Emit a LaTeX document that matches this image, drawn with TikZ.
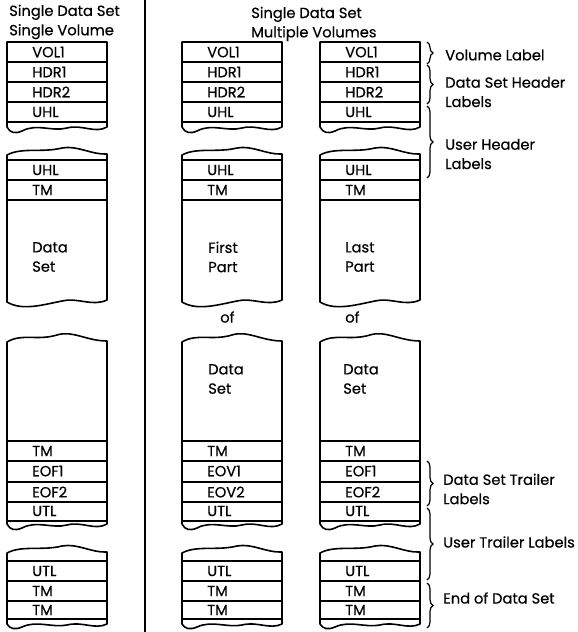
\documentclass[tikz,border=0pt]{standalone}
\usepackage{fontspec}
\setmainfont{Poppins}[FakeBold=0.5]
\usetikzlibrary{decorations.pathreplacing}

\tikzset{
  box/.style={line width=1.2pt, line join=round},
  row/.style={line width=0.8pt},
  lbl/.style={anchor=west, inner sep=0pt, align=left, font=\fontsize{11}{14.5}\selectfont},
  brc/.style={decorate, decoration={brace, amplitude=4.5pt}, line width=0.9pt},
}

\begin{document}
\begin{tikzpicture}[x=0.75pt, y=-0.75pt]
    \useasboundingbox (0,0) rectangle (578,632);
    \draw [line width=1.1pt] (145,0) -- (145,632); % divider

    \node [lbl] (headA) at (9,22) {Single Data Set\\Single Volume};
    \node [lbl] (headB) at (251,24) {Single Data Set\\Multiple Volumes};

    \foreach \x/\c/\e in {7/a/EOF,182/b/EOV,320/c/EOF} {
        % header labels
        \draw [box] (\x,127) -- (\x,42) -- (\x+100,42) -- (\x+100,127)
            .. controls (\x+88,134) and (\x+75,124) .. (\x+60,128)
            .. controls (\x+45,132) and (\x+30,123) .. (\x+15,131)
            .. controls (\x+8,134) and (\x+3,133) .. cycle;
        \foreach \y in {62,82,102,122} \draw [row] (\x,\y) -- (\x+100,\y);
        \node [lbl] (\c-vol) at (\x+25,52) {VOL1};
        \node [lbl] (\c-hdr1) at (\x+25,72) {HDR1};
        \node [lbl] (\c-hdr2) at (\x+25,92) {HDR2};
        \node [lbl] (\c-uhl1) at (\x+25,112) {UHL};
        % first part of the data set
        \draw [box] (\x,155) .. controls (\x+15,147) and (\x+35,153) .. (\x+55,148)
            .. controls (\x+70,145) and (\x+85,155) .. (\x+100,154) -- (\x+100,300)
            .. controls (\x+85,307) and (\x+70,297) .. (\x+55,301)
            .. controls (\x+35,305) and (\x+15,311) .. (\x,302) -- cycle;
        \foreach \y in {160,180,200} \draw [row] (\x,\y) -- (\x+100,\y);
        \node [lbl] (\c-uhl2) at (\x+25,170) {UHL};
        \node [lbl] (\c-tm1) at (\x+25,190) {TM};
        % trailer labels
        \draw [box] (\x,342) .. controls (\x+15,333) and (\x+30,341) .. (\x+50,335)
            .. controls (\x+65,330) and (\x+80,341) .. (\x+100,341) -- (\x+100,524)
            .. controls (\x+88,531) and (\x+75,521) .. (\x+60,525)
            .. controls (\x+45,529) and (\x+30,520) .. (\x+15,528)
            .. controls (\x+8,531) and (\x+3,530) .. (\x,524) -- cycle;
        \foreach \y in {441,461,482,502,521} \draw [row] (\x,\y) -- (\x+100,\y);
        \node [lbl] (\c-tm2) at (\x+25,451) {TM};
        \node [lbl] (\c-eo1) at (\x+25,471) {\e1};
        \node [lbl] (\c-eo2) at (\x+25,492) {\e2};
        \node [lbl] (\c-utl1) at (\x+25,511) {UTL};
        % end of data set
        \draw [box] (\x,553) .. controls (\x+15,545) and (\x+35,551) .. (\x+55,546)
            .. controls (\x+70,543) and (\x+85,553) .. (\x+100,552) -- (\x+100,624)
            .. controls (\x+88,630) and (\x+75,621) .. (\x+60,625)
            .. controls (\x+45,628) and (\x+30,620) .. (\x+15,627)
            .. controls (\x+8,630) and (\x+3,629) .. (\x,624) -- cycle;
        \foreach \y in {561,581,601,619} \draw [row] (\x,\y) -- (\x+100,\y);
        \node [lbl] (\c-utl2) at (\x+25,571) {UTL};
        \node [lbl] (\c-tm3) at (\x+25,591) {TM};
        \node [lbl] (\c-tm4) at (\x+25,610) {TM};
    }

    \node [lbl] (a-set) at (32,257) {Data\\Set};
    \node [lbl] (b-first) at (208,257) {First\\Part};
    \node [lbl] (c-last) at (345,257) {Last\\Part};
    \node [lbl] (b-of) at (220,317) {of};
    \node [lbl] (c-of) at (345,317) {of};
    \node [lbl] (b-set) at (208,379) {Data\\Set};
    \node [lbl] (c-set) at (343,379) {Data\\Set};

    % braces and their labels
    \draw [brc] (427,42) -- (427,64);
    \draw [brc] (427,65) -- (427,104);
    \draw [brc] (427,106) -- (427,178);
    \draw [brc] (427,461) -- (427,506);
    \draw [brc] (427,508) -- (427,580);
    \draw [brc] (427,583) -- (427,628);
    \node [lbl] (volume) at (445,55) {Volume Label};
    \node [lbl] (dshead) at (445,92) {Data Set Header\\Labels};
    \node [lbl] (ushead) at (445,154) {User Header\\Labels};
    \node [lbl] (dstrail) at (443,489) {Data Set Trailer\\Labels};
    \node [lbl] (ustrail) at (443,542) {User Trailer Labels};
    \node [lbl] (eods) at (443,598) {End of Data Set};
\end{tikzpicture}
\end{document}
